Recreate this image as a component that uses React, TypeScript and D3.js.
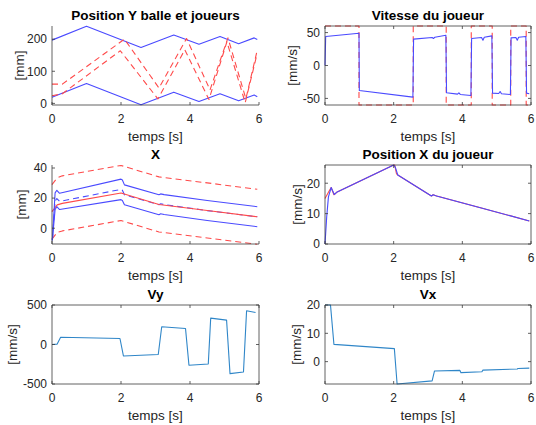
import React from 'react';
import * as d3 from 'd3';

// ---------- shared ----------
const xTicks = [0, 2, 4, 6];
const xLabel = 'temps [s]';

// ---------- Position Y balle et joueurs ----------
const posYTimes = [0, 1.0, 2.58, 3.53, 4.26, 4.87, 5.41, 5.86, 5.95];
const posYTop = [197, 240, 174, 213, 184, 208, 186, 204, 199];
const posYBottom = [19, 62, -4, 35, 6, 30, 8, 26, 21];
const ballATimes = [0, 0.3, 2.1, 3.1, 3.9, 4.58, 5.1, 5.62, 5.93];
const ballAValues = [60, 60, 200, 48, 202, 42, 204, 14, 157];
const ballBTimes = [0, 0.3, 1.98, 3.07, 3.85, 4.55, 5.07, 5.6, 5.93];
const ballBValues = [24, 30, 164, 14, 167, 12, 192, 2, 148];
const posYTicks = [0, 100, 200];

// ---------- Vitesse du joueur ----------
const velTimes = [0, 0.02, 0.99, 1.0, 2.56, 2.58, 3.12, 3.16, 3.2, 3.52, 3.54, 3.86, 3.9, 3.94, 4.25, 4.27, 4.56, 4.6, 4.64, 4.86, 4.88, 5.06, 5.1, 5.14, 5.4, 5.42, 5.56, 5.6, 5.64, 5.85, 5.87, 5.95];
const velValues = [0, 44, 49, -38, -48, 40, 42.5, 41, 43, 46, -41.5, -43.5, -41.5, -44, -45.5, 41, 42.5, 38.5, 43, 45, -42, -42.5, -39.5, -43, -44, 42, 42.5, 38.5, 43, 44, -42, -43];
const refTimes = [0, 0.99, 0.99, 2.57, 2.57, 3.53, 3.53, 4.26, 4.26, 4.87, 4.87, 5.41, 5.41, 5.86, 5.86, 5.95];
const refValues = [60, 60, -60, -60, 60, 60, -60, -60, 60, 60, -60, -60, 60, 60, -60, -60];
const velTicks = [-50, 0, 50];

// ---------- X ----------
const xBallTimes = [0, 0.15, 0.3, 2.0, 3.1, 4.5, 5.95];
const xBallCenter = [11, 15.5, 16.5, 23.4, 15.8, 11.8, 7.6];
const xBallUpper = [29, 33.5, 34.8, 41.7, 34.1, 30.1, 25.9];
const xBallLower = [-7.3, -2.8, -1.8, 5.1, -2.5, -6.5, -10.7];
const xPlayerTimes = [0.01, 0.09, 0.14, 0.22, 2.0, 2.04, 2.1, 3.1, 3.15, 3.25, 4.5, 5.95];
const xPlayerTop = [-8, 23.5, 25.2, 23.2, 32.6, 32.0, 28.8, 22.2, 22.8, 22.3, 18.4, 14.3];
const xPlayerBottom = [-8, 12.4, 14.3, 12.4, 19.0, 18.4, 15.6, 9.0, 9.6, 9.1, 5.1, 1.0];
const xPlayerMid = [-8, 18, 19.7, 17.8, 25.8, 25.2, 22.2, 15.6, 16.2, 15.7, 11.7, 7.6];
const xTicksY = [0, 20, 40];

// ---------- Position X du joueur ----------
const pxBlueTimes = [0, 0.05, 0.1, 0.18, 0.27, 0.34, 2.0, 2.05, 2.12, 3.1, 3.15, 3.25, 4.5, 5.95];
const pxBlueValues = [0, 9, 15.5, 18.6, 16.3, 17.0, 26, 25.2, 22.7, 15.8, 16.2, 15.8, 12.0, 7.6];
const pxRedTimes = [0, 0.1, 0.18, 0.26, 0.34, 2.0, 2.03, 2.08, 2.12, 3.1, 3.15, 3.25, 4.5, 5.95];
const pxRedValues = [15, 17, 18.6, 16.2, 17.0, 26, 26, 23.2, 22.7, 15.8, 16.2, 15.8, 12.0, 7.6];
const pxTicks = [0, 10, 20];

// ---------- Vy ----------
const vyTimes = [0, 0.15, 0.25, 1.97, 2.07, 3.08, 3.18, 3.87, 3.97, 4.53, 4.6, 5.06, 5.16, 5.55, 5.64, 5.9];
const vyValues = [0, 5, 92, 76, -145, -127, 224, 203, -263, -246, 334, 309, -369, -348, 427, 406];
const vyTicks = [-500, 0, 500];

// ---------- Vx ----------
const vxTimes = [0, 0.16, 0.26, 2.02, 2.1, 3.12, 3.19, 3.93, 3.96, 4.57, 4.6, 5.6, 5.62, 5.95];
const vxValues = [20, 20, 6.1, 4.6, -7.9, -6.8, -3.3, -3.1, -3.9, -3.6, -3.0, -2.6, -2.45, -2.3];
const vxTicks = [0, 10, 20];

type Series = { t: number[]; v: number[]; color: string; dash?: string; width?: number };
type PanelCfg = {
  id: string;
  x0: number; x1: number; y0: number; y1: number;
  ydomain: [number, number];
  yticks: number[];
  box: boolean;
  title: string;
  ylabel: string;
  ylabelX: number;
  series: Series[];
};

const TXT = '#262626';
const AX = '#3a3a3a';
const FONT = '"Liberation Sans", Arial, Helvetica, sans-serif';
const BLUE = '#4a4aff';
const RED = '#ff4a4a';
const MBLUE = '#2f86c8';
const DASH = '6,4';

const L = { x0: 52, x1: 259 };
const R = { x0: 325, x1: 531 };
const ROWS = [
  { y0: 26, y1: 105 },
  { y0: 165, y1: 244 },
  { y0: 305, y1: 384 },
];

const panels: PanelCfg[] = [
  {
    id: 'p1', ...L, ...ROWS[0], ydomain: [-5, 241], yticks: posYTicks, box: false,
    title: 'Position Y balle et joueurs', ylabel: '[mm]', ylabelX: 24,
    series: [
      { t: posYTimes, v: posYTop, color: BLUE },
      { t: posYTimes, v: posYBottom, color: BLUE },
      { t: ballATimes, v: ballAValues, color: RED, dash: DASH },
      { t: ballBTimes, v: ballBValues, color: RED, dash: DASH },
    ],
  },
  {
    id: 'p2', ...R, ...ROWS[0], ydomain: [-60, 60], yticks: velTicks, box: true,
    title: 'Vitesse du joueur', ylabel: '[mm/s]', ylabelX: 297,
    series: [
      { t: refTimes, v: refValues, color: RED, dash: DASH },
      { t: velTimes, v: velValues, color: BLUE },
    ],
  },
  {
    id: 'p3', ...L, ...ROWS[1], ydomain: [-10.5, 42], yticks: xTicksY, box: false,
    title: 'X', ylabel: '[mm]', ylabelX: 26,
    series: [
      { t: xBallTimes, v: xBallUpper, color: RED, dash: DASH },
      { t: xBallTimes, v: xBallLower, color: RED, dash: DASH },
      { t: xPlayerTimes, v: xPlayerMid, color: BLUE, dash: DASH },
      { t: xBallTimes, v: xBallCenter, color: RED },
      { t: xPlayerTimes, v: xPlayerTop, color: BLUE },
      { t: xPlayerTimes, v: xPlayerBottom, color: BLUE },
    ],
  },
  {
    id: 'p4', ...R, ...ROWS[1], ydomain: [0, 26], yticks: pxTicks, box: true,
    title: 'Position X du joueur', ylabel: '[mm/s]', ylabelX: 302,
    series: [
      { t: pxRedTimes, v: pxRedValues, color: RED },
      { t: pxBlueTimes, v: pxBlueValues, color: BLUE },
    ],
  },
  {
    id: 'p5', ...L, ...ROWS[2], ydomain: [-500, 500], yticks: vyTicks, box: true,
    title: 'Vy', ylabel: '[mm/s]', ylabelX: 17,
    series: [{ t: vyTimes, v: vyValues, color: MBLUE }],
  },
  {
    id: 'p6', ...R, ...ROWS[2], ydomain: [-7.9, 20], yticks: vxTicks, box: true,
    title: 'Vx', ylabel: '[mm/s]', ylabelX: 301,
    series: [{ t: vxTimes, v: vxValues, color: MBLUE }],
  },
];

function Panel({ cfg }: { cfg: PanelCfg }) {
  const xs = d3.scaleLinear().domain([0, 6]).range([cfg.x0, cfg.x1]);
  const ys = d3.scaleLinear().domain(cfg.ydomain).range([cfg.y1, cfg.y0]);
  const line = d3
    .line<[number, number]>()
    .x((d) => xs(d[0]))
    .y((d) => ys(d[1]));
  const tl = 3;
  const cx = (cfg.x0 + cfg.x1) / 2;
  const cy = (cfg.y0 + cfg.y1) / 2;
  return (
    <g>
      <defs>
        <clipPath id={`clip-${cfg.id}`}>
          <rect x={cfg.x0 - 1} y={cfg.y0 - 1} width={cfg.x1 - cfg.x0 + 2} height={cfg.y1 - cfg.y0 + 2} />
        </clipPath>
      </defs>
      <g clipPath={`url(#clip-${cfg.id})`}>
        {cfg.series.map((s, i) => (
          <path
            key={i}
            d={line(d3.zip(s.t, s.v) as [number, number][]) || ''}
            fill="none"
            stroke={s.color}
            strokeWidth={s.width ?? 1.1}
            strokeDasharray={s.dash}
            strokeLinejoin="round"
          />
        ))}
      </g>
      {/* axes */}
      <g stroke={AX} strokeWidth={0.8} fill="none">
        <line x1={cfg.x0} y1={cfg.y0} x2={cfg.x0} y2={cfg.y1} />
        <line x1={cfg.x0} y1={cfg.y1} x2={cfg.x1} y2={cfg.y1} />
        {cfg.box && <line x1={cfg.x0} y1={cfg.y0} x2={cfg.x1} y2={cfg.y0} />}
        {cfg.box && <line x1={cfg.x1} y1={cfg.y0} x2={cfg.x1} y2={cfg.y1} />}
        {xTicks.map((t) => (
          <g key={'xt' + t}>
            <line x1={xs(t)} x2={xs(t)} y1={cfg.y1} y2={cfg.y1 - tl} />
            {cfg.box && <line x1={xs(t)} x2={xs(t)} y1={cfg.y0} y2={cfg.y0 + tl} />}
          </g>
        ))}
        {cfg.yticks.map((t) => (
          <g key={'yt' + t}>
            <line x1={cfg.x0} x2={cfg.x0 + tl} y1={ys(t)} y2={ys(t)} />
            {cfg.box && <line x1={cfg.x1} x2={cfg.x1 - tl} y1={ys(t)} y2={ys(t)} />}
          </g>
        ))}
      </g>
      <g fill={TXT} fontFamily={FONT} fontSize={12}>
        {xTicks.map((t) => (
          <text key={'xl' + t} x={xs(t)} y={cfg.y1 + 18} textAnchor="middle">
            {t}
          </text>
        ))}
        {cfg.yticks.map((t) => (
          <text key={'yl' + t} x={cfg.x0 - 5} y={ys(t)} dy="0.36em" textAnchor="end">
            {t}
          </text>
        ))}
      </g>
      <text x={cx} y={cfg.y1 + 36} textAnchor="middle" fill={TXT} fontFamily={FONT} fontSize={13.5}>
        {xLabel}
      </text>
      <text
        transform={`translate(${cfg.ylabelX},${cy}) rotate(-90)`}
        textAnchor="middle"
        fill={TXT}
        fontFamily={FONT}
        fontSize={13.5}
      >
        {cfg.ylabel}
      </text>
      <text x={cx} y={cfg.y0 - 6} textAnchor="middle" fill="#000" fontFamily={FONT} fontSize={13.5} fontWeight="bold">
        {cfg.title}
      </text>
    </g>
  );
}

export default function App() {
  return (
    <svg
      width={536}
      height={425}
      style={{ position: 'absolute', left: 0, top: 0, background: '#fff' }}
    >
      <rect x={0} y={0} width={536} height={425} fill="#fff" />
      {panels.map((p) => (
        <Panel key={p.id} cfg={p} />
      ))}
    </svg>
  );
}
